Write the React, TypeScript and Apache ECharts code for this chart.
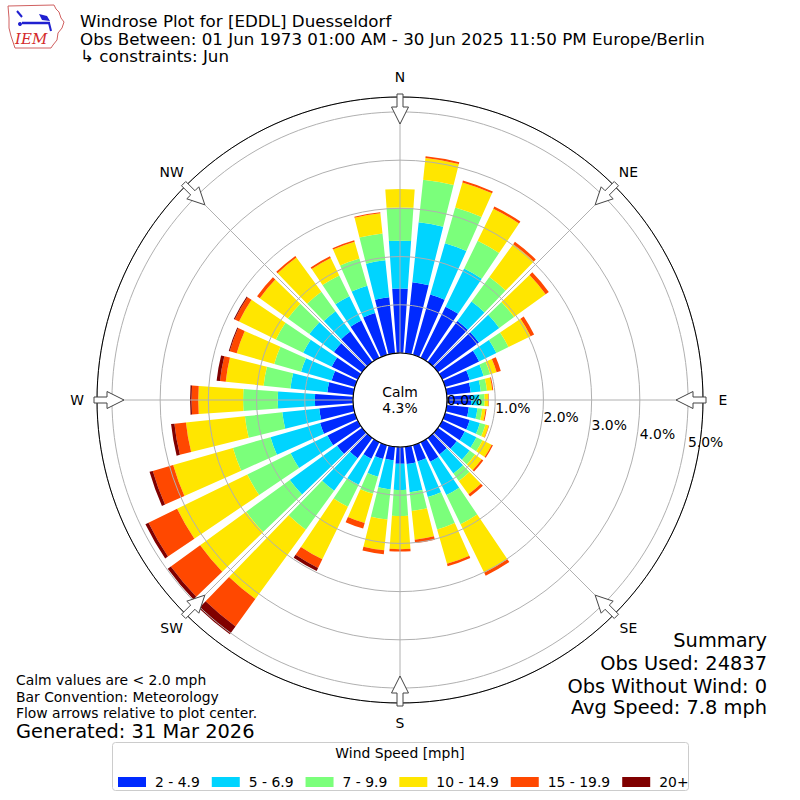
import React, { useEffect, useRef } from "react";
import * as echarts from "echarts";

const FONT = "DejaVu Sans";

// Direction bins (degrees, meteorological convention)
const directionBins = [
  "0", "10", "20", "30", "40", "50", "60", "70", "80", "90", "100", "110",
  "120", "130", "140", "150", "160", "170", "180", "190", "200", "210", "220", "230",
  "240", "250", "260", "270", "280", "290", "300", "310", "320", "330", "340", "350",
];
const compassPoints = ["N", "NE", "E", "SE", "S", "SW", "W", "NW"];
const speedBins = ["2 - 4.9", "5 - 6.9", "7 - 9.9", "10 - 14.9", "15 - 19.9", "20+"];
const speedColors = ["#002aff", "#00d4ff", "#7bff7b", "#ffe600", "#ff4800", "#800000"];

// Frequency (%) per direction bin for each speed class
const freq2to5 = [
  1.34, 1.48, 1.30, 1.18, 1.05, 1.05, 0.85, 0.53, 0.50, 0.50, 0.46, 0.53,
  0.52, 0.48, 0.42, 0.45, 0.35, 0.36, 0.35, 0.28, 0.30, 0.38, 0.52, 0.64,
  0.70, 0.75, 0.71, 0.79, 0.54, 0.50, 0.60, 0.72, 0.78, 0.86, 0.90, 1.17,
];
const freq5to7 = [
  0.99, 1.25, 1.11, 0.88, 0.50, 0.52, 0.40, 0.30, 0.21, 0.17, 0.18, 0.22,
  0.27, 0.33, 0.49, 0.77, 0.77, 0.59, 0.54, 0.61, 0.38, 0.60, 0.83, 1.21,
  0.85, 1.07, 0.77, 0.77, 0.77, 0.66, 0.66, 0.63, 0.52, 0.56, 0.59, 0.77,
];
const freq7to10 = [
  0.69, 0.89, 0.77, 0.64, 0.63, 0.38, 0.28, 0.14, 0.13, 0.11, 0.10, 0.12,
  0.14, 0.14, 0.19, 0.67, 0.70, 0.39, 0.54, 0.63, 0.37, 0.51, 1.00, 1.12,
  1.00, 0.81, 0.78, 0.72, 0.56, 0.58, 0.63, 0.55, 0.50, 0.48, 0.59, 0.56,
];
const freq10to15 = [
  0.38, 0.45, 0.54, 0.74, 0.84, 0.81, 0.51, 0.14, 0.11, 0.08, 0.07, 0.07,
  0.21, 0.17, 0.34, 1.12, 0.74, 0.60, 0.69, 0.64, 0.63, 1.21, 1.78, 1.18,
  1.62, 1.29, 1.23, 0.93, 0.79, 0.81, 0.85, 0.72, 0.88, 0.40, 0.36, 0.42,
];
const freq15to20 = [
  0.00, 0.04, 0.04, 0.05, 0.06, 0.08, 0.08, 0.09, 0.02, 0.01, 0.02, 0.01,
  0.03, 0.04, 0.06, 0.07, 0.05, 0.07, 0.05, 0.08, 0.12, 0.20, 0.70, 0.75,
  0.66, 0.44, 0.24, 0.14, 0.12, 0.15, 0.10, 0.07, 0.04, 0.04, 0.03, 0.02,
];
const freq20plus = [
  0.00, 0.00, 0.00, 0.00, 0.00, 0.00, 0.00, 0.00, 0.00, 0.00, 0.00, 0.00,
  0.00, 0.00, 0.00, 0.00, 0.00, 0.00, 0.00, 0.00, 0.00, 0.07, 0.20, 0.08,
  0.07, 0.07, 0.07, 0.03, 0.07, 0.02, 0.02, 0.00, 0.00, 0.00, 0.00, 0.00,
];
const speedSeries = [freq2to5, freq5to7, freq7to10, freq10to15, freq15to20, freq20plus];

const radialTicks = [0, 1, 2, 3, 4, 5];
const radialMax = 5.31;
const calmPercent = 4.3;

const titleLines = [
  "Windrose Plot for [EDDL] Duesseldorf",
  "Obs Between: 01 Jun 1973 01:00 AM - 30 Jun 2025 11:50 PM Europe/Berlin",
  "\u21b3 constraints: Jun",
];
const noteLines = [
  "Calm values are < 2.0 mph",
  "Bar Convention: Meteorology",
  "Flow arrows relative to plot center.",
];
const generatedLine = "Generated: 31 Mar 2026";
const summaryLines = ["Summary", "Obs Used: 24837", "Obs Without Wind: 0", "Avg Speed: 7.8 mph"];
const legendTitle = "Wind Speed [mph]";

// layout
const CX = 400;
const CY = 400;
const R_IN = 47;
const R_OUT = 303;
const R_COMPASS = 323;

function arrowPoints(deg: number) {
  const a = (deg * Math.PI) / 180;
  const s = Math.sin(a);
  const c = Math.cos(a);
  const pts = [[306, -3], [293, -3], [293, -8.5], [276, 0], [293, 8.5], [293, 3], [306, 3]];
  return pts.map(([u, v]) => [CX + u * s + v * c, CY - u * c + v * s]);
}

export default function App() {
  const ref = useRef<HTMLDivElement>(null);

  useEffect(() => {
    if (!ref.current) return;
    const chart = echarts.init(ref.current, undefined, { renderer: "svg" });

    const graphics: any[] = [];
    // outer & calm circles
    graphics.push({ type: "circle", shape: { cx: CX, cy: CY, r: R_OUT }, style: { fill: "none", stroke: "#000", lineWidth: 1 }, z: 6 });
    graphics.push({ type: "circle", shape: { cx: CX, cy: CY, r: R_IN }, style: { fill: "#fff", stroke: "#000", lineWidth: 1.2 }, z: 6 });
    graphics.push({
      type: "text", x: CX, y: CY, z: 7,
      style: { text: "Calm\n" + calmPercent.toFixed(1) + "%", fontSize: 13.9, fontFamily: FONT, fill: "#000", align: "center", verticalAlign: "middle", lineHeight: 16 },
    });
    // compass labels and flow arrows
    compassPoints.forEach((name, i) => {
      const a = (i * 45 * Math.PI) / 180;
      graphics.push({
        type: "text", x: CX + R_COMPASS * Math.sin(a), y: CY - R_COMPASS * Math.cos(a), z: 7,
        style: { text: name, fontSize: 13.9, fontFamily: FONT, fill: "#000", align: "center", verticalAlign: "middle" },
      });
      graphics.push({ type: "polygon", shape: { points: arrowPoints(i * 45) }, style: { fill: "#fff", stroke: "#444", lineWidth: 1 }, z: 9 });
    });
    // titles
    const titleY = [21, 38.5, 56];
    titleLines.forEach((t, i) => {
      graphics.push({ type: "text", x: 80, y: titleY[i], z: 7, style: { text: t, fontSize: 16.7, fontFamily: FONT, fill: "#000", align: "left", verticalAlign: "middle", lineHeight: 17 } });
    });
    // notes
    const noteY = [680, 696.5, 713];
    noteLines.forEach((t, i) => {
      graphics.push({ type: "text", x: 16, y: noteY[i], z: 7, style: { text: t, fontSize: 13.9, fontFamily: FONT, fill: "#000", align: "left", verticalAlign: "middle", lineHeight: 16 } });
    });
    graphics.push({ type: "text", x: 16, y: 731, z: 7, style: { text: generatedLine, fontSize: 19.4, fontFamily: FONT, fill: "#000", align: "left", verticalAlign: "middle", lineHeight: 20 } });
    const sumY = [640, 663, 686, 707];
    summaryLines.forEach((t, i) => {
      graphics.push({ type: "text", x: 767, y: sumY[i], z: 7, style: { text: t, fontSize: 19.4, fontFamily: FONT, fill: "#000", align: "right", verticalAlign: "middle", lineHeight: 20 } });
    });
    // legend frame + title
    graphics.push({ type: "rect", shape: { x: 112.5, y: 742.5, width: 576, height: 48, r: 3 }, style: { fill: "#fff", stroke: "#cccccc", lineWidth: 1 }, z: 1 });
    graphics.push({ type: "text", x: 400, y: 753, z: 7, style: { text: legendTitle, fontSize: 13.9, fontFamily: FONT, fill: "#000", align: "center", verticalAlign: "middle" } });
    // IEM logo (approximation)
    graphics.push({
      type: "polygon", z: 7,
      shape: { points: [[8, 6], [54, 5], [56, 9], [59, 12], [61, 18], [64, 22], [62, 28], [58, 33], [57, 40], [53, 45], [51, 48], [15, 48], [13, 42], [11, 36], [9, 28], [9, 18]] },
      style: { fill: "#fff", stroke: "#d06060", lineWidth: 1 },
    });
    graphics.push({ type: "text", x: 15, y: 39, z: 8, style: { text: "IEM", font: 'italic 15px "DejaVu Serif", serif', fill: "#d42a2a", align: "left", verticalAlign: "middle" } });
    graphics.push({ type: "line", z: 8, shape: { x1: 22, y1: 23, x2: 50, y2: 23 }, style: { stroke: "#2020d0", lineWidth: 2.5 } });
    graphics.push({ type: "line", z: 8, shape: { x1: 17, y1: 11, x2: 22, y2: 17 }, style: { stroke: "#2020d0", lineWidth: 2 } });
    graphics.push({ type: "circle", z: 8, shape: { cx: 20, cy: 24, r: 2 }, style: { fill: "#2020d0" } });
    graphics.push({ type: "polygon", z: 8, shape: { points: [[39, 14], [47, 16], [50, 21], [42, 20]] }, style: { fill: "#2020d0" } });
    graphics.push({ type: "line", z: 8, shape: { x1: 49, y1: 23, x2: 51, y2: 31 }, style: { stroke: "#2020d0", lineWidth: 2 } });

    const option: any = {
      animation: false,
      backgroundColor: "#fff",
      polar: [
        { center: [CX, CY], radius: [R_IN, R_OUT] },
        { center: [CX, CY], radius: [R_IN, R_OUT] },
        { center: [447, 400], radius: [0, 48.94 * radialMax] },
      ],
      angleAxis: [
        {
          polarIndex: 0, type: "category", data: directionBins, startAngle: 95, clockwise: true,
          axisLine: { show: false }, axisTick: { show: false }, axisLabel: { show: false }, splitLine: { show: false },
        },
        {
          polarIndex: 1, type: "value", min: 0, max: 360, interval: 45, startAngle: 90, clockwise: true, z: 5,
          axisLine: { show: false }, axisTick: { show: false }, axisLabel: { show: false },
          splitLine: { show: true, lineStyle: { color: "#b0b0b0", width: 1 } },
        },
        {
          polarIndex: 2, type: "value", min: 0, max: 360, startAngle: -10, clockwise: true,
          axisLine: { show: false }, axisTick: { show: false }, axisLabel: { show: false }, splitLine: { show: false },
        },
      ],
      radiusAxis: [
        { polarIndex: 0, type: "value", min: 0, max: radialMax, axisLine: { show: false }, axisTick: { show: false }, axisLabel: { show: false }, splitLine: { show: false } },
        {
          polarIndex: 1, type: "value", min: 0, max: radialMax, interval: 1, z: 5,
          axisLine: { show: false }, axisTick: { show: false }, axisLabel: { show: false },
          splitLine: { show: true, lineStyle: { color: "#b0b0b0", width: 1 } },
        },
        {
          polarIndex: 2, type: "value", min: 0, max: radialMax, interval: 1, z: 8,
          axisLine: { show: false }, axisTick: { show: false }, splitLine: { show: false },
          axisLabel: {
            show: true, margin: 0, align: "left", verticalAlign: "middle", color: "#000", fontSize: 13.9, fontFamily: FONT,
            formatter: (v: number) => (radialTicks.indexOf(v) >= 0 ? v.toFixed(1) + "%" : ""),
          },
        },
      ],
      legend: {
        data: speedBins, left: 113, top: 769, itemWidth: 28, itemHeight: 10, itemGap: 12, icon: "rect",
        selectedMode: false, z: 10,
        textStyle: { fontSize: 13.9, fontFamily: FONT, color: "#000", padding: [0, 0, 0, 4], lineHeight: 16 },
      },
      series: speedBins.map((name, i) => ({
        type: "bar", name, coordinateSystem: "polar", polarIndex: 0, stack: "total",
        data: speedSeries[i], barCategoryGap: "20%", itemStyle: { color: speedColors[i] }, z: 2,
      })),
      graphic: graphics,
    };
    chart.setOption(option);
    return () => chart.dispose();
  }, []);

  return <div ref={ref} style={{ position: "absolute", left: 0, top: 0, width: 800, height: 800 }} />;
}
